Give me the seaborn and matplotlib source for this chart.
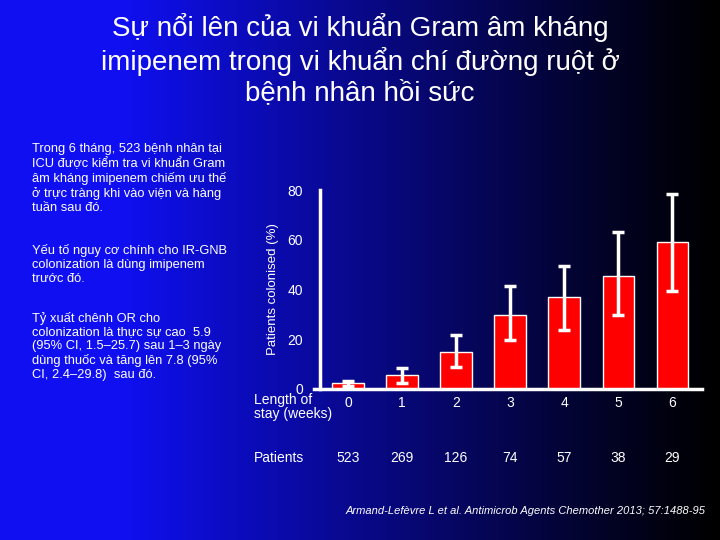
import numpy as np
import matplotlib
matplotlib.use("Agg")
import matplotlib.pyplot as plt
import seaborn as sns
import pandas as pd

weeks = [0, 1, 2, 3, 4, 5, 6]
colonised = [2.4, 5.4, 14.8, 29.7, 36.9, 45.4, 59.1]
err_low = [1.1, 2.4, 8.8, 19.7, 23.5, 29.7, 39.2]
err_high = [3.3, 8.4, 21.8, 41.3, 49.4, 63.1, 78.4]
patients = [523, 269, 126, 74, 57, 38, 29]
yticks = [0, 20, 40, 60, 80]

sns.set_theme(style="white")
plt.rcParams['font.family'] = ['Liberation Sans', 'DejaVu Sans']

fig = plt.figure(figsize=(7.2, 5.4), dpi=100)

# background gradient: blue on the left to black on the right
bg = fig.add_axes([0, 0, 1, 1])
xs = np.linspace(0, 1, 256)
grad = np.zeros((2, 256, 3))
fade = np.clip(1.2 - 1.2 * xs, 0, 1) ** 1.1
grad[:, :, 0] = 0.06 * fade
grad[:, :, 1] = 0.06 * fade
grad[:, :, 2] = 0.95 * fade
bg.imshow(grad, aspect='auto', extent=[0, 1, 0, 1])
bg.set_axis_off()

fig.text(0.5, 0.975, "Sự nổi lên của vi khuẩn Gram âm kháng\nimipenem trong vi khuẩn chí đường ruột ở\nbệnh nhân hồi sức",
         ha='center', va='top', color='white', fontsize=20, linespacing=1.2)

left_text = [
    (0.045, 0.735, "Trong 6 tháng, 523 bệnh nhân tại\nICU được kiểm tra vi khuẩn Gram\nâm kháng imipenem chiếm ưu thế\nở trực tràng khi vào viện và hàng\ntuần sau đó."),
    (0.045, 0.548, "Yếu tố nguy cơ chính cho IR-GNB\ncolonization là dùng imipenem\ntrước đó."),
    (0.045, 0.423, "Tỷ xuất chênh OR cho\ncolonization là thực sự cao  5.9\n(95% CI, 1.5–25.7) sau 1–3 ngày\ndùng thuốc và tăng lên 7.8 (95%\nCI, 2.4–29.8)  sau đó."),
]
for x, y, t in left_text:
    fig.text(x, y, t, ha='left', va='top', color='white', fontsize=9.3, linespacing=1.2)

ax = fig.add_axes([0.436, 0.28, 0.539, 0.368])
ax.patch.set_alpha(0)
df = pd.DataFrame({'week': weeks, 'pct': colonised})
sns.barplot(data=df, x='week', y='pct', color='#ff0000', saturation=1,
            width=0.58, edgecolor='white', linewidth=1, ax=ax, native_scale=True)
lo = np.array(colonised) - np.array(err_low)
hi = np.array(err_high) - np.array(colonised)
ax.errorbar(weeks, colonised, yerr=[lo, hi], fmt='none', ecolor='white',
            elinewidth=2.5, capsize=4, capthick=2.5)
ax.set_xlim(-0.63, 6.55)
ax.set_ylim(0, 80)
ax.set_yticks(yticks)
ax.set_xticks(weeks)
ax.set_xticklabels([])
ax.tick_params(axis='y', colors='white', labelsize=10, direction='in', length=5, width=2, pad=12)
ax.tick_params(axis='x', length=0)
for s in ['top', 'right']:
    ax.spines[s].set_visible(False)
for s in ['left', 'bottom']:
    ax.spines[s].set_color('white')
    ax.spines[s].set_linewidth(2.5)
ax.spines['left'].set_position(('data', -0.52))
ax.set_xlabel('')
ax.set_ylabel('Patients colonised (%)', color='white', fontsize=9.5, labelpad=6)

for w, n in zip(weeks, patients):
    ax.text(w, -3, str(w), ha='center', va='top', color='white', fontsize=10)
    ax.text(w, -25, str(n), ha='center', va='top', color='white', fontsize=10)
ax.text(-1.74, -1.5, "Length of\nstay (weeks)", ha='left', va='top', color='white', fontsize=10, linespacing=1.0)
ax.text(-1.74, -25, "Patients", ha='left', va='top', color='white', fontsize=10)

fig.text(0.98, 0.045, "Armand-Lefèvre L et al. Antimicrob Agents Chemother 2013; 57:1488-95",
         ha='right', va='bottom', color='white', fontsize=8, style='italic')

fig.savefig('out.png', dpi=100)
